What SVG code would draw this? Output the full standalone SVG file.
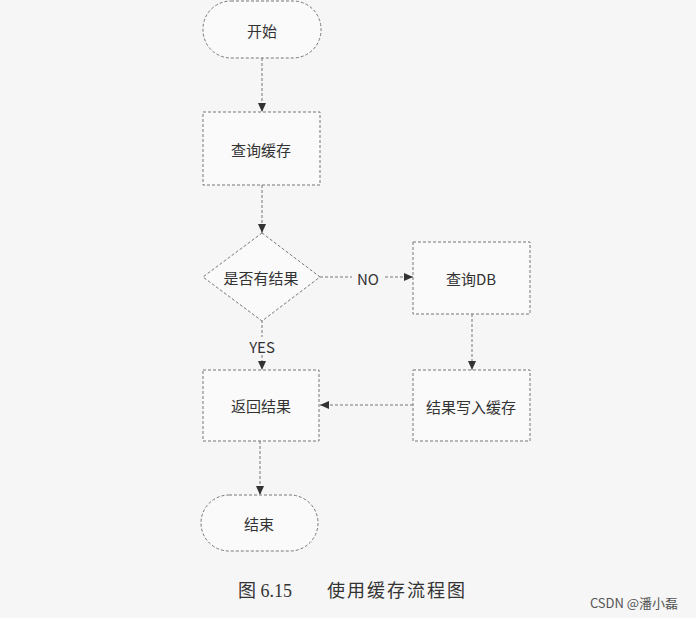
<svg xmlns="http://www.w3.org/2000/svg" width="696" height="618" viewBox="0 0 696 618">
<defs>
<style>
.n{fill:#fafafa;stroke:#777;stroke-width:1;stroke-dasharray:3 2}
.t{font-family:"Noto Sans CJK SC","Liberation Sans",sans-serif;font-size:15px;fill:#333;text-anchor:middle;dominant-baseline:central}
.c{stroke:#777;stroke-width:1;stroke-dasharray:3 2;fill:none}
.cap{font-family:"Liberation Serif","Noto Sans CJK SC",serif;font-size:18px;fill:#333}
</style>
<marker id="a" markerWidth="10" markerHeight="10" refX="9" refY="5" orient="auto" markerUnits="userSpaceOnUse"><path d="M0,1 L9,5 L0,9 Z" fill="#333"/></marker>
</defs>
<rect width="696" height="618" fill="#f6f6f6"/>
<g id="connectors">
<line class="c" x1="262" y1="58" x2="262" y2="112" marker-end="url(#a)"/>
<line class="c" x1="262" y1="185" x2="262" y2="233" marker-end="url(#a)"/>
<line class="c" x1="320" y1="277" x2="413" y2="277" marker-end="url(#a)"/>
<rect x="352" y="268" width="32" height="18" fill="#f6f6f6"/>
<text class="t" x="368" y="278">NO</text>
<line class="c" x1="472" y1="314" x2="472" y2="370" marker-end="url(#a)"/>
<line class="c" x1="413" y1="405" x2="320" y2="405" marker-end="url(#a)"/>
<line class="c" x1="262" y1="320" x2="262" y2="370" marker-end="url(#a)"/>
<rect x="246" y="337" width="32" height="18" fill="#f6f6f6"/>
<text class="t" x="262" y="346">YES</text>
<line class="c" x1="260" y1="441" x2="260" y2="495" marker-end="url(#a)"/>
</g>
<g id="start"><rect class="n" x="203" y="1" width="118" height="57" rx="28"/><text class="t" x="262" y="30">开始</text></g>
<g id="query-cache"><rect class="n" x="203" y="112" width="117" height="73"/><text class="t" x="261" y="149">查询缓存</text></g>
<g id="has-result"><polygon class="n" points="262,233 320,277 262,321 203,277"/><text class="t" x="261" y="277">是否有结果</text></g>
<g id="query-db"><rect class="n" x="413" y="242" width="117" height="72"/><text class="t" x="471" y="278">查询DB</text></g>
<g id="write-cache"><rect class="n" x="413" y="370" width="117" height="71"/><text class="t" x="471" y="406">结果写入缓存</text></g>
<g id="return"><rect class="n" x="203" y="370" width="116" height="71"/><text class="t" x="261" y="405">返回结果</text></g>
<g id="end"><rect class="n" x="201" y="495" width="117" height="56" rx="28"/><text class="t" x="259" y="523">结束</text></g>
<text class="cap" x="238" y="597">图 6.15</text>
<text class="cap" x="327" y="597" letter-spacing="2">使用缓存流程图</text>
<text x="634" y="608" style="font-family:'Noto Sans CJK SC',sans-serif;font-size:13px;fill:#555;text-anchor:middle">CSDN @潘小磊</text>
</svg>
